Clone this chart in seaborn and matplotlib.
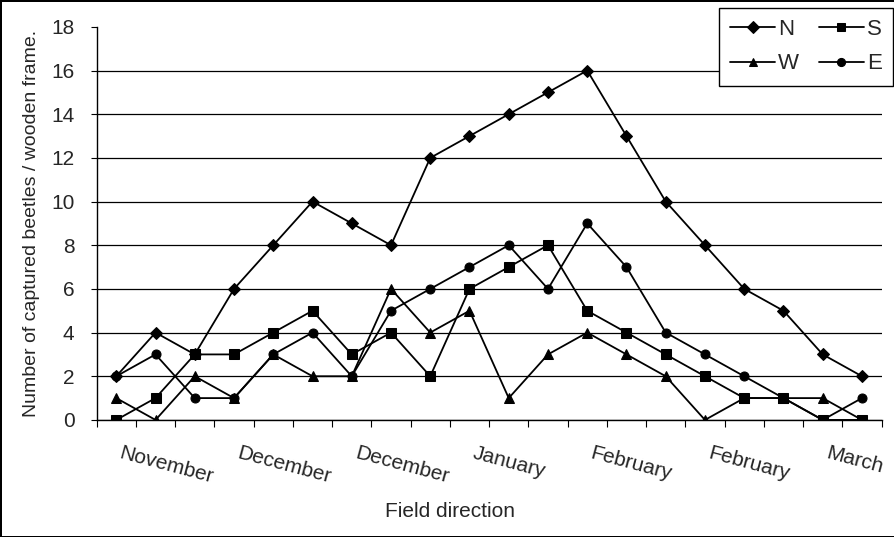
import numpy as np
import pandas as pd
import seaborn as sns
import matplotlib.pyplot as plt
import matplotlib.transforms as mtransforms

# trap counts per sampling date (20 dates)
months = ['November', 'December', 'December', 'January', 'February', 'February', 'March']
n_vals = [2, 4, 3, 6, 8, 10, 9, 8, 12, 13, 14, 15, 16, 13, 10, 8, 6, 5, 3, 2]
s_vals = [0, 1, 3, 3, 4, 5, 3, 4, 2, 6, 7, 8, 5, 4, 3, 2, 1, 1, 0, 0]
w_vals = [1, 0, 2, 1, 3, 2, 2, 6, 4, 5, 1, 3, 4, 3, 2, 0, 1, 1, 1, 0]
e_vals = [2, 3, 1, 1, 3, 4, 2, 5, 6, 7, 8, 6, 9, 7, 4, 3, 2, 1, 0, 1]

idx = np.arange(len(n_vals))
df = pd.concat([
    pd.DataFrame({'date': idx, 'count': n_vals, 'dir': 'N'}),
    pd.DataFrame({'date': idx, 'count': s_vals, 'dir': 'S'}),
    pd.DataFrame({'date': idx, 'count': w_vals, 'dir': 'W'}),
    pd.DataFrame({'date': idx, 'count': e_vals, 'dir': 'E'}),
])

sns.set_style("white")
plt.rcParams['font.family'] = ['Liberation Sans', 'DejaVu Sans']

fig = plt.figure(figsize=(8.95, 5.37), dpi=100)
fig.patch.set_edgecolor('black')
fig.patch.set_linewidth(2)
ax = fig.add_axes([0.108, 0.218, 0.877, 0.732])

markers = {'N': 'D', 'S': 's', 'W': '^', 'E': 'o'}
sns.lineplot(data=df, x='date', y='count', hue='dir', style='dir',
             palette=['black'] * 4, markers=markers, dashes=False,
             markersize=6.5, linewidth=1.3, markeredgecolor='black',
             ax=ax, legend=True)

ax.set_xlim(-0.5, len(n_vals) - 0.5)
ax.set_ylim(0, 18)
ax.set_yticks(range(0, 19, 2))
ax.tick_params(axis='y', labelsize=15, length=4, pad=12, direction='out',
               left=True, color='black')
ax.yaxis.grid(True, color='black', linewidth=0.9)
ax.get_ygridlines()[-1].set_visible(False)

# ticks at category boundaries, labels every 3rd date
ax.set_xticks(np.arange(-0.5, len(n_vals), 1))
ax.set_xticklabels([])
ax.tick_params(axis='x', which='major', length=5, direction='out', bottom=True, color='black')
ax.set_xticks(idx[::3], minor=True)
ax.set_xticklabels(months, minor=True, fontsize=15, rotation=-15,
                   ha='left', va='top', rotation_mode='anchor')
ax.tick_params(axis='x', which='minor', length=0, pad=17)
shift = mtransforms.ScaledTranslation(6 / 100, 0, fig.dpi_scale_trans)
for lab in ax.get_xticklabels(minor=True):
    lab.set_transform(lab.get_transform() + shift)

for side in ['top', 'right']:
    ax.spines[side].set_visible(False)
for side in ['left', 'bottom']:
    ax.spines[side].set_color('black')
    ax.spines[side].set_linewidth(1)

ax.set_ylabel('Number of captured beetles / wooden frame.', fontsize=14, labelpad=8)
ax.set_xlabel('Field direction', fontsize=15)
ax.xaxis.set_label_coords(0.45, -0.21)

handles, labels = ax.get_legend_handles_labels()
order = [labels.index(k) for k in ['N', 'W', 'S', 'E']]
leg = ax.legend([handles[i] for i in order], [labels[i] for i in order],
                ncol=2, fontsize=16, frameon=True, fancybox=False,
                edgecolor='black', framealpha=1, handlelength=2.0,
                handletextpad=0.15, columnspacing=0.9, borderpad=0.5,
                labelspacing=0.6, markerscale=0.9, borderaxespad=0,
                loc='upper right', bbox_to_anchor=(893 / 895, 1 - 8 / 537),
                bbox_transform=fig.transFigure)
leg.get_frame().set_linewidth(1)

fig.savefig('out.png', dpi=100)
